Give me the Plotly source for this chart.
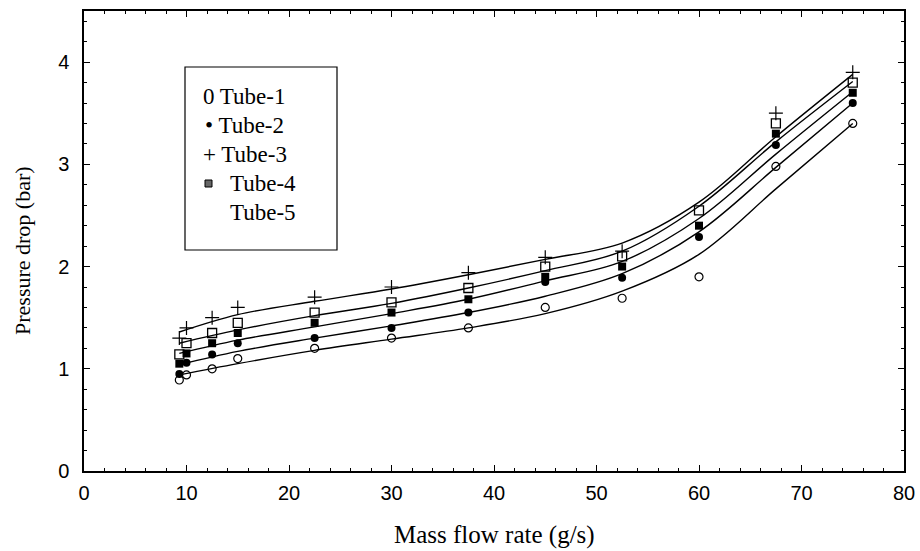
import plotly.graph_objects as go

# ---- measured data (mass flow rate g/s, pressure drop bar) ----
x_pts = [9.3, 10, 12.5, 15, 22.5, 30, 37.5, 45, 52.5, 60, 67.5, 75]
tube1 = [0.89, 0.94, 1.00, 1.10, 1.20, 1.30, 1.40, 1.60, 1.69, 1.90, 2.98, 3.40]
tube2 = [0.95, 1.06, 1.14, 1.25, 1.30, 1.40, 1.55, 1.85, 1.89, 2.29, 3.19, 3.60]
tube3 = [1.30, 1.40, 1.50, 1.60, 1.70, 1.80, 1.94, 2.09, 2.15, None, 3.50, 3.90]
tube4 = [1.05, 1.15, 1.25, 1.35, 1.45, 1.55, 1.68, 1.90, 2.00, 2.40, 3.30, 3.70]
tube5 = [1.14, 1.25, 1.35, 1.45, 1.55, 1.65, 1.79, 2.00, 2.10, 2.55, 3.40, 3.80]

# ---- fitted curves ----
x_fit = [9.3, 15, 22.5, 30, 37.5, 45, 52.5, 60, 67.5, 75]
fit1 = [0.94, 1.05, 1.18, 1.29, 1.40, 1.54, 1.76, 2.12, 2.76, 3.40]
fit2 = [1.04, 1.17, 1.30, 1.42, 1.55, 1.71, 1.93, 2.34, 2.97, 3.60]
fit3 = [1.36, 1.53, 1.66, 1.78, 1.92, 2.07, 2.23, 2.63, 3.27, 3.88]
fit4 = [1.15, 1.28, 1.41, 1.54, 1.68, 1.86, 2.05, 2.47, 3.10, 3.71]
fit5 = [1.25, 1.38, 1.52, 1.64, 1.79, 1.96, 2.15, 2.59, 3.22, 3.81]

legend_labels = ["0 Tube-1", "\u2022 Tube-2", "+ Tube-3", "Tube-4", "Tube-5"]
x_title = "Mass flow rate (g/s)"
y_title = "Pressure drop (bar)"

W, H = 920, 551
L, R, T, B = 84, 16, 11, 80
XR = [0, 80]
YR = [0, 4.5]


def px_to_x(px):
    return XR[0] + (px - L) / (W - L - R) * (XR[1] - XR[0])


def py_to_y(py):
    return YR[0] + (H - B - py) / (H - T - B) * (YR[1] - YR[0])


def px_to_paper(px):
    return (px - L) / (W - L - R)


def py_to_paper(py):
    return (H - B - py) / (H - T - B)


fig = go.Figure()

for fy in [fit1, fit2, fit3, fit4, fit5]:
    fig.add_trace(go.Scatter(x=x_fit, y=fy, mode="lines",
                             line=dict(color="black", width=1.4, shape="spline", smoothing=1.0),
                             showlegend=False, hoverinfo="skip"))

series = [
    (tube1, dict(symbol="circle-open", size=8, color="black", line=dict(color="black", width=1.2))),
    (tube2, dict(symbol="circle", size=8, color="black")),
    (tube3, dict(symbol="cross-thin-open", size=10, color="black", line=dict(color="black", width=1.2))),
    (tube4, dict(symbol="square", size=8, color="black")),
    (tube5, dict(symbol="square-open", size=9, color="black", line=dict(color="black", width=1.3))),
]
for ys, mk in series:
    fig.add_trace(go.Scatter(x=x_pts, y=ys, mode="markers", marker=mk, showlegend=False))

# legend box
fig.add_shape(type="rect", xref="x", yref="y",
              x0=px_to_x(185), x1=px_to_x(337), y0=py_to_y(250), y1=py_to_y(67),
              line=dict(color="black", width=1.2), fillcolor="white", layer="below")

leg_font = dict(family="Liberation Serif, Times New Roman, serif", size=23, color="black")
leg_rows = [(201, 96), (203, 125), (201, 154), (228, 183), (228, 212)]
for (lx, ly), txt in zip(leg_rows, legend_labels):
    fig.add_annotation(x=px_to_x(lx), y=py_to_y(ly), xref="x", yref="y", text=txt,
                       showarrow=False, xanchor="left", yanchor="middle", font=leg_font)
# grey square glyph for Tube-4
fig.add_shape(type="rect", xref="x", yref="y",
              x0=px_to_x(205), x1=px_to_x(212), y0=py_to_y(187), y1=py_to_y(180),
              line=dict(color="black", width=1), fillcolor="#666666")

tick_font = dict(family="Liberation Sans, Arial, sans-serif", size=20, color="black")
xtitle_font = dict(family="Liberation Serif, Times New Roman, serif", size=25, color="black")
ytitle_font = dict(family="Liberation Serif, Times New Roman, serif", size=22, color="black")

# axis titles as annotations (precise placement)
fig.add_annotation(x=px_to_paper(494), y=py_to_paper(535), xref="paper", yref="paper",
                   text=x_title, showarrow=False, xanchor="center", yanchor="middle",
                   font=xtitle_font)
fig.add_annotation(x=px_to_paper(22), y=py_to_paper(251), xref="paper", yref="paper",
                   text=y_title, showarrow=False, xanchor="center", yanchor="middle",
                   textangle=-90, font=ytitle_font)

fig.update_xaxes(range=XR, tickmode="linear", tick0=0, dtick=10, automargin=False,
                 ticks="inside", ticklen=6, tickwidth=1.2, tickcolor="black",
                 minor=dict(dtick=2, ticks="inside", ticklen=3, tickcolor="black", tickwidth=1),
                 showline=True, linecolor="black", linewidth=1.5, mirror="allticks",
                 showgrid=False, zeroline=False, tickfont=tick_font, ticklabelstandoff=3)
fig.update_yaxes(range=YR, tickmode="linear", tick0=0, dtick=1, automargin=False,
                 ticks="inside", ticklen=6, tickwidth=1.2, tickcolor="black",
                 minor=dict(dtick=0.2, ticks="inside", ticklen=3, tickcolor="black", tickwidth=1),
                 showline=True, linecolor="black", linewidth=1.5, mirror="allticks",
                 showgrid=False, zeroline=False, tickfont=tick_font, ticklabelstandoff=9)

fig.update_layout(width=W, height=H, margin=dict(l=L, r=R, t=T, b=B),
                  paper_bgcolor="white", plot_bgcolor="white", showlegend=False)

fig.write_html("out.html")
